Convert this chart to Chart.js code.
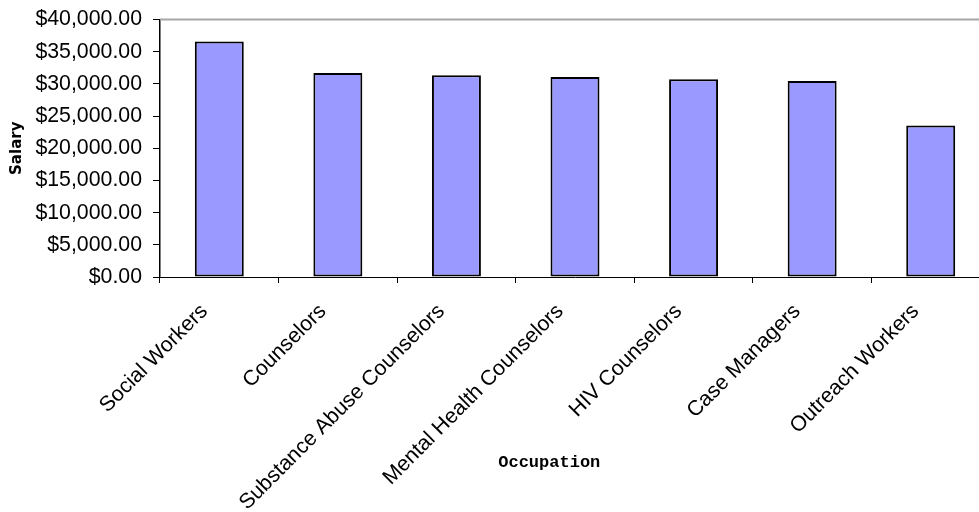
<!DOCTYPE html>
<html>
<head>
<meta charset="utf-8">
<title>Salary by Occupation</title>
<script src="https://cdn.jsdelivr.net/npm/chart.js@4/dist/chart.umd.min.js"></script>
<style>
  html, body { margin: 0; padding: 0; background: #ffffff; overflow: hidden; }
  #wrap { width: 1000px; height: 512px; }
</style>
</head>
<body>
<div id="wrap"><canvas id="chart" width="1000" height="512"></canvas></div>
<script>
// Occupations and their average salary (USD)
const occupations = [
  'Social Workers',
  'Counselors',
  'Substance Abuse Counselors',
  'Mental Health Counselors',
  'HIV Counselors',
  'Case Managers',
  'Outreach Workers'
];
const salaries = [36600, 31700, 31350, 31050, 30700, 30450, 23550];

const yAxisTitle = 'Salary';
const xAxisTitle = 'Occupation';
const salaryMin = 0;
const salaryMax = 40000;
const salaryStep = 5000;

const money = new Intl.NumberFormat('en-US', {
  style: 'currency', currency: 'USD', minimumFractionDigits: 2, maximumFractionDigits: 2
});

// Thin grey rule along the top of the plot area
const topRule = {
  id: 'topRule',
  beforeDatasetsDraw(chart) {
    const { ctx, chartArea } = chart;
    ctx.save();
    ctx.strokeStyle = '#a6a6a6';
    ctx.lineWidth = 2;
    ctx.beginPath();
    ctx.moveTo(chartArea.left, chartArea.top);
    ctx.lineTo(chartArea.right, chartArea.top);
    ctx.stroke();
    ctx.restore();
  }
};

// Category axis caption, set in a typewriter face under the labels
const xCaption = {
  id: 'xCaption',
  afterDraw(chart) {
    const { ctx, chartArea } = chart;
    ctx.save();
    ctx.font = 'bold 17px "Liberation Mono", "DejaVu Sans Mono", monospace';
    ctx.fillStyle = '#000000';
    ctx.textAlign = 'center';
    ctx.textBaseline = 'middle';
    ctx.fillText(xAxisTitle, chartArea.left + chartArea.width * 0.469, 463);
    ctx.restore();
  }
};

new Chart(document.getElementById('chart'), {
  type: 'bar',
  data: {
    labels: occupations,
    datasets: [{
      label: yAxisTitle,
      data: salaries,
      backgroundColor: '#9999ff',
      borderColor: '#000000',
      borderWidth: 2,
      borderSkipped: false,
      categoryPercentage: 1.0,
      barPercentage: 0.413
    }]
  },
  options: {
    responsive: false,
    animation: false,
    layout: { padding: { top: 19.5, right: 10, bottom: 0, left: 0 } },
    plugins: {
      legend: { display: false },
      tooltip: { enabled: false }
    },
    scales: {
      x: {
        afterFit(scale) {
          scale.height = 235;
          scale.paddingLeft = 0;
          scale.paddingRight = 0;
        },
        grid: {
          display: true,
          drawOnChartArea: false,
          drawTicks: true,
          tickLength: 6,
          color: '#000000',
          offset: true
        },
        border: { display: true, color: '#000000', width: 1 },
        ticks: {
          autoSkip: false,
          maxRotation: 45,
          minRotation: 45,
          padding: 16,
          labelOffset: -15,
          color: '#000000',
          font: { family: '"Liberation Sans", Arial, sans-serif', size: 21.3 }
        }
      },
      y: {
        min: salaryMin,
        max: salaryMax,
        afterFit(scale) {
          scale.width = 160;
          scale.paddingTop = 0;
          scale.paddingBottom = 0;
        },
        grid: {
          display: true,
          drawOnChartArea: false,
          drawTicks: true,
          tickLength: 7,
          color: '#000000'
        },
        border: { display: true, color: '#000000', width: 1.5 },
        ticks: {
          stepSize: salaryStep,
          padding: 11,
          color: '#000000',
          font: { family: '"Liberation Sans", Arial, sans-serif', size: 21.3 },
          callback: (v) => money.format(v)
        },
        title: {
          display: true,
          text: yAxisTitle,
          color: '#000000',
          padding: { top: 8, bottom: 0 },
          font: { family: '"DejaVu Sans", sans-serif', size: 15, weight: 'bold' }
        }
      }
    }
  },
  plugins: [topRule, xCaption]
});
</script>
</body>
</html>
